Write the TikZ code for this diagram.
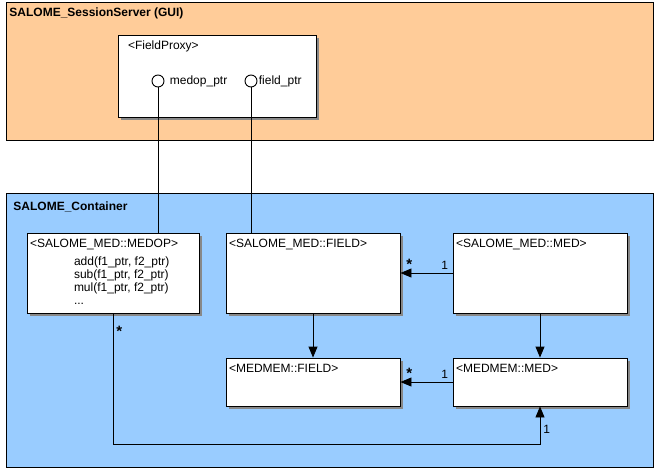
\documentclass[tikz,border=0pt]{standalone}
\usepackage{fontspec}
\setmainfont{Liberation Sans}
\usetikzlibrary{arrows.meta,shadows,positioning}

\definecolor{guiorange}{HTML}{FFCC99}
\definecolor{contblue}{HTML}{99CCFF}
\definecolor{shadowgray}{HTML}{888888}

\tikzset{
  panel/.style={draw, line width=1pt},
  paneltitle/.style={anchor=west, inner sep=0pt, font=\fontsize{12}{13}\selectfont\bfseries},
  classbox/.style={draw, fill=white, line width=0.9pt, inner sep=0pt,
    drop shadow={shadow xshift=3pt, shadow yshift=-3pt, fill=shadowgray, opacity=1}},
  classname/.style={anchor=north west, inner sep=0pt, xshift=3pt, yshift=-6pt},
  opslist/.style={align=left, inner sep=0pt},
  port/.style={draw, fill=white, circle, minimum size=12pt, inner sep=0pt, line width=0.9pt},
  portname/.style={inner sep=0pt, label distance=5pt},
  assoc/.style={-{Triangle[length=11pt,width=9pt]}, line width=0.9pt},
  mult/.style={inner sep=3pt},
  many/.style={mult, font=\fontsize{15}{15}\selectfont\bfseries},
}

\begin{document}
\begin{tikzpicture}[x=1pt, y=-1pt, font=\fontsize{12}{13}\selectfont, line width=0.9pt]

  \useasboundingbox (0,0) rectangle (655,469);

  \newcommand\BW{174pt}
  \newcommand\BH{80pt}
  \newcommand\SH{48pt}

  % panels
  \draw[panel, fill=guiorange] (6,2) rectangle (653,140);
  \node[paneltitle] (guiTitle) at (9,13) {SALOME\_SessionServer (GUI)};
  \draw[panel, fill=contblue] (6,193) rectangle (653,467);
  \node[paneltitle] (contTitle) at (13,207) {SALOME\_Container};

  % GUI side
  \node[classbox, minimum width=198pt, minimum height=82pt,
    label={[classname, xshift=7pt]north west:{<FieldProxy>}}] (proxy) at (217,76) {};
  \node[port, label={[portname]right:medop\_ptr}] (medopPort) at (158,81) {};
  \node[port, label={[portname, label distance=1pt]right:field\_ptr}] (fieldPort) at (251,81) {};

  % container side
  \node[classbox, minimum width=172pt, minimum height=\BH,
    label={[classname]north west:{<SALOME\_MED::MEDOP>}}] (medop) at (113,273) {};
  \node[opslist, below right=24pt and 47pt of medop.north west] (medopOps)
    {add(f1\_ptr, f2\_ptr)\\sub(f1\_ptr, f2\_ptr)\\mul(f1\_ptr, f2\_ptr)\\...};
  \node[classbox, minimum width=\BW, minimum height=\BH,
    label={[classname]north west:{<SALOME\_MED::FIELD>}}] (field) at (313,273) {};
  \node[classbox, minimum width=\BW, minimum height=\BH,
    label={[classname]north west:{<SALOME\_MED::MED>}}] (med) at (540,273) {};
  \node[classbox, minimum width=\BW, minimum height=\SH,
    label={[classname]north west:{<MEDMEM::FIELD>}}] (mmfield) at (313,382) {};
  \node[classbox, minimum width=\BW, minimum height=\SH,
    label={[classname]north west:{<MEDMEM::MED>}}] (mmmed) at (540,382) {};

  \coordinate (loopY) at (0,444);

  \draw (medopPort.south) -- (medopPort.south |- medop.north); %% proxy->MEDOP
  \draw (fieldPort.south) -- (fieldPort.south |- field.north); %% proxy->FIELD

  \draw[assoc] (med.west) -- node[many, pos=0.83, above]{*}
    node[mult, pos=0.15, above]{1} (field.east); %% MED->FIELD
  \draw[assoc] (mmmed.west) -- node[many, pos=0.83, above]{*}
    node[mult, pos=0.15, above]{1} (mmfield.east); %% MEDMEM::MED->MEDMEM::FIELD
  \draw[assoc] (field.south) -- (mmfield.north);
  \draw[assoc] (med.south) -- (mmmed.north);
  \draw[assoc] (medop.south) |- node[many, pos=0.07, right]{*}
    (loopY -| mmmed.south) -- node[mult, pos=0.4, right]{1} (mmmed.south); %% MEDOP->MEDMEM::MED
\end{tikzpicture}
\end{document}
